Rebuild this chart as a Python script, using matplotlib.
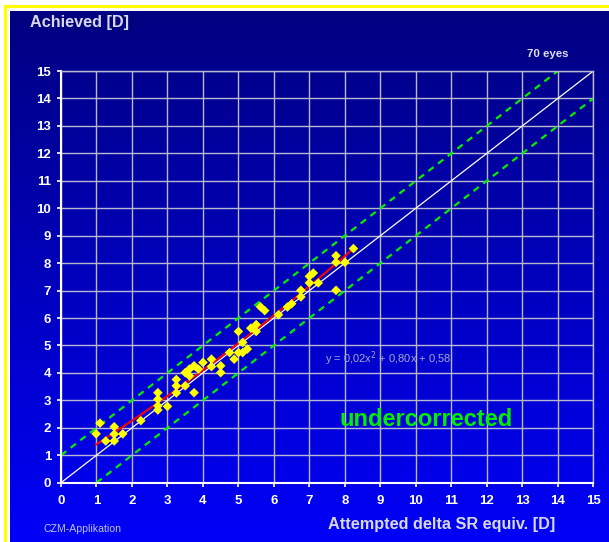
import numpy as np
import matplotlib
matplotlib.use("Agg")
import matplotlib.pyplot as plt
from matplotlib.colors import LinearSegmentedColormap
from matplotlib.lines import Line2D

plt.rcParams['font.family'] = ['Liberation Sans', 'DejaVu Sans']

# attempted vs achieved correction per eye [D]
attempted = [0.99, 1.10, 1.26, 1.50, 1.50, 1.50, 1.74, 2.25, 2.73, 2.73,
             2.73, 2.73, 3.00, 3.25, 3.25, 3.25, 3.50, 3.75, 3.50, 3.62,
             3.62, 3.75, 3.87, 4.00, 4.24, 4.24, 4.50, 4.50, 4.75, 4.88,
             5.00, 5.00, 5.12, 5.12, 5.25, 5.35, 5.50, 5.50, 5.62, 5.74,
             6.13, 6.38, 6.50, 6.76, 6.76, 7.00, 7.00, 7.11, 7.25, 7.75,
             7.75, 7.75, 8.00, 8.24]
achieved = [1.78, 2.17, 1.52, 2.04, 1.77, 1.52, 1.78, 2.26, 3.28, 3.04,
            2.80, 2.65, 2.78, 3.76, 3.53, 3.27, 3.53, 3.28, 4.01, 4.14,
            3.89, 4.26, 4.14, 4.38, 4.50, 4.23, 4.26, 4.01, 4.74, 4.50,
            5.51, 4.74, 5.11, 4.74, 4.87, 5.63, 5.76, 5.51, 6.41, 6.27,
            6.12, 6.40, 6.52, 7.01, 6.77, 7.28, 7.52, 7.64, 7.28, 8.27,
            8.03, 7.01, 8.03, 8.53]

# quadratic trend: y = a*x^2 + b*x + c
trend_a, trend_b, trend_c = 0.02, 0.80, 0.58
ticks = list(range(0, 16))

fig = plt.figure(figsize=(6.09, 5.42), dpi=100, facecolor='white')

# blue gradient background
bg = fig.add_axes([10 / 609, 0, 1 - 10 / 609, 1 - 11 / 542], zorder=-5)
grad_cmap = LinearSegmentedColormap.from_list('bg', ['#000080', '#0000F8'])
bg.imshow(np.linspace(0, 1, 256).reshape(-1, 1), aspect='auto', cmap=grad_cmap,
          extent=[0, 1, 0, 1])
bg.axis('off')

# yellow frame on the left and top
fig.add_artist(Line2D([4.5 / 609, 4.5 / 609], [0, 1 - 5.5 / 542], color='#FFFF00',
                      lw=2.2, transform=fig.transFigure))
fig.add_artist(Line2D([4.5 / 609, 1], [1 - 5.5 / 542, 1 - 5.5 / 542], color='#FFFF00',
                      lw=2.2, transform=fig.transFigure))

ax = fig.add_axes([61 / 609, 1 - 482.7 / 542, (593.3 - 61) / 609, (482.7 - 71) / 542])
ax.set_facecolor('none')
ax.set_xlim(0, 15)
ax.set_ylim(0, 15)
ax.set_xticks(ticks)
ax.set_yticks(ticks)
ax.grid(True, color='#B8B8D0', lw=1.0, zorder=0)
ax.set_axisbelow(True)
for side in ['top', 'right']:
    ax.spines[side].set_color('#B8B8D0')
    ax.spines[side].set_linewidth(1.0)
for side in ['left', 'bottom']:
    ax.spines[side].set_color('white')
    ax.spines[side].set_linewidth(1.5)
ax.tick_params(axis='both', colors='white', direction='out', length=3, width=1.2,
               labelsize=9.5)
ax.tick_params(axis='x', pad=6)
ax.tick_params(axis='y', pad=4)
for lab in ax.get_xticklabels() + ax.get_yticklabels():
    lab.set_fontweight('bold')
    lab.set_color('white')

# identity and +/- 1 D limits
line_x = np.array([0, 15])
ax.plot(line_x, line_x, color='white', lw=0.9, zorder=2)
ax.plot([0, 14], [1, 15], color='#00F000', lw=1.6, ls=(0, (3, 2.5)), zorder=2)
ax.plot([1, 15], [0, 14], color='#00F000', lw=1.6, ls=(0, (3, 2.5)), zorder=2)

# trend line over the data range
fx = np.linspace(min(attempted), max(attempted), 100)
ax.plot(fx, trend_a * fx ** 2 + trend_b * fx + trend_c, color='#FF0000', lw=1.5, zorder=3)

ax.scatter(attempted, achieved, marker='D', s=24, color='#FFFF00', edgecolors='none',
           zorder=4)

ax.text(7.45, 4.51, 'y = 0,02x$^2$ + 0,80x + 0,58', color='#A8A8C8', fontsize=8,
        va='center', ha='left')
ax.text(7.86, 2.29, 'undercorrected', color='#00F000', fontsize=17,
        fontweight='bold', va='center', ha='left')

fig.text(30 / 609, 1 - 22 / 542, 'Achieved [D]', color='#D8D8E8', fontsize=11.7,
         fontweight='bold', va='center', ha='left')
fig.text(442 / 609, 1 - 525 / 542, 'Attempted delta SR equiv. [D]', color='#D8D8E8',
         fontsize=11.7, fontweight='bold', va='center', ha='center')
fig.text(548 / 609, 1 - 54 / 542, '70 eyes', color='#E0E0F0', fontsize=8.2,
         fontweight='bold', va='center', ha='center')
fig.text(44 / 609, 1 - 529 / 542, 'CZM-Applikation', color='#C0C0E0', fontsize=7.6,
         va='center', ha='left')

fig.savefig('out.png', dpi=100, facecolor=fig.get_facecolor())
